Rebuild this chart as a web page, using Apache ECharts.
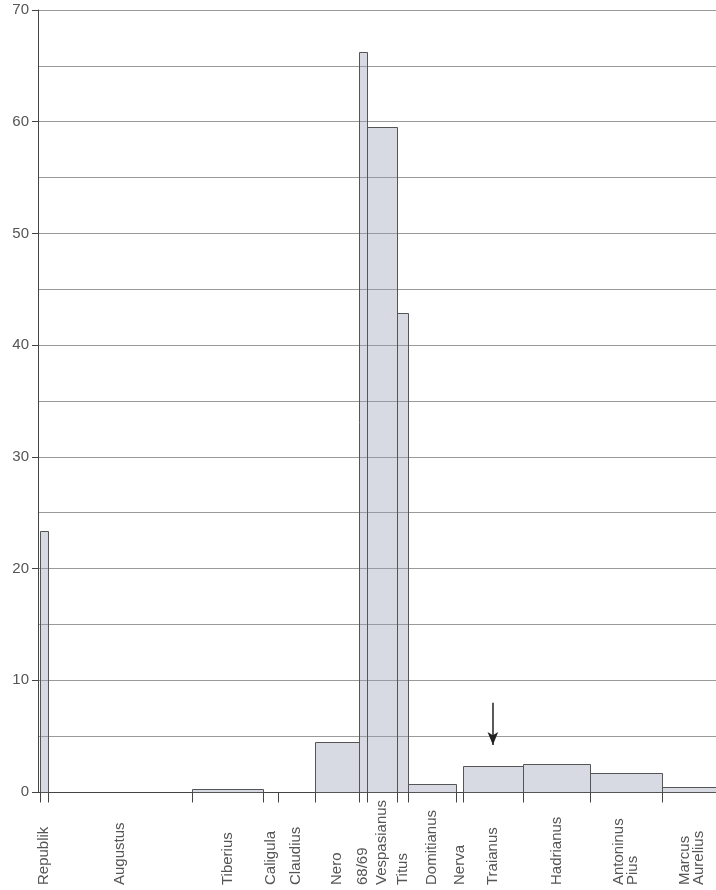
<!DOCTYPE html>
<html>
<head>
<meta charset="utf-8">
<script src="https://cdn.jsdelivr.net/npm/echarts@6/dist/echarts.min.js"></script>
<style>html,body{margin:0;padding:0;background:#fff;}#c{width:716px;height:890px;}</style>
</head>
<body>
<div id="c"></div>
<script>
// Periods (labels), start/end on a year scale, and values
const periods = ["Republik", "Augustus", "Tiberius", "Caligula", "Claudius", "Nero", "68/69", "Vespasianus", "Titus", "Domitianus", "Nerva", "Traianus", "Hadrianus", "Antoninus\nPius", "Marcus\nAurelius"];
const periodStart = [-33.5, -31, 14, 36.2, 40.8, 52.4, 66.3, 68.8, 78.0, 81.6, 96.6, 98.9, 117.6, 138.6, 161.0];
const periodEnd   = [-31, 14, 36.2, 40.8, 52.4, 66.3, 68.8, 78.0, 81.6, 96.6, 98.9, 117.6, 138.6, 161.0, 180];
const values      = [23.4, 0, 0.3, 0, 0, 4.5, 66.2, 59.5, 42.9, 0.7, 0, 2.35, 2.5, 1.7, 0.45];
const yTicks = [0, 10, 20, 30, 40, 50, 60, 70];
// Arrow annotation over Traianus: [x (year), from y, to y]
const arrowMark = [108.1, 8.0, 4.2];

const data = periods.map((p, i) => [periodStart[i], periodEnd[i], values[i]]);

const FONT = '"Liberation Sans", Arial, Helvetica, sans-serif';
const TXT = '#555';

const chart = echarts.init(document.getElementById('c'), null, {renderer: 'canvas'});
chart.setOption({
  animation: false,
  backgroundColor: '#fff',
  grid: {left: 38, right: 0, top: 10, bottom: 98, containLabel: false},
  xAxis: {
    type: 'value', min: -34.2, max: 177.9,
    axisLine: {show: true, onZero: false, lineStyle: {color: '#444', width: 1}},
    axisTick: {show: false}, axisLabel: {show: false}, splitLine: {show: false}
  },
  yAxis: {
    type: 'value', min: yTicks[0], max: yTicks[yTicks.length - 1], interval: 10,
    axisLine: {show: true, onZero: false, lineStyle: {color: '#444', width: 1}},
    axisTick: {show: true, length: 6, lineStyle: {color: '#444'}},
    axisLabel: {color: TXT, fontSize: 15, fontFamily: FONT, margin: 9},
    splitLine: {show: true, lineStyle: {color: '#9a9a9a', width: 1}},
    minorTick: {show: false, splitNumber: 2},
    minorSplitLine: {show: true, lineStyle: {color: '#9a9a9a', width: 1}}
  },
  series: [{
    type: 'custom',
    clip: false,
    data: data,
    encode: {x: [0, 1], y: 2},
    renderItem: function (params, api) {
      const i = params.dataIndex;
      const s = api.value(0), e = api.value(1), v = api.value(2);
      const p0 = api.coord([s, 0]);
      const p1 = api.coord([e, v]);
      const x0 = Math.round(p0[0]) + 0.5, x1 = Math.round(p1[0]) + 0.5;
      const yb = Math.round(p0[1]) + 0.5, yt = Math.round(p1[1]) + 0.5;
      const children = [];
      if (v > 0) {
        children.push({
          type: 'rect',
          shape: {x: x0, y: yt, width: x1 - x0, height: yb - yt},
          style: {fill: 'rgba(150,155,182,0.38)', stroke: '#555', lineWidth: 1}
        });
      }
      children.push({
        type: 'line',
        shape: {x1: x0, y1: yb, x2: x0, y2: yb + 10},
        style: {stroke: '#444', lineWidth: 1}
      });
      const cx = (api.coord([s, 0])[0] + api.coord([e, 0])[0]) / 2;
      children.push({
        type: 'text',
        x: cx, y: p0[1] + 93,
        rotation: Math.PI / 2,
        style: {
          text: periods[i], fill: TXT, fontSize: 15, fontFamily: FONT,
          align: 'left', verticalAlign: 'middle', lineHeight: 14
        }
      });
      return {type: 'group', children: children};
    },
    markLine: {
      silent: true,
      symbol: ['none', 'arrow'],
      symbolSize: [8, 13],
      label: {show: false},
      lineStyle: {color: '#222', width: 1.5, type: 'solid'},
      data: [[{coord: [arrowMark[0], arrowMark[1]]}, {coord: [arrowMark[0], arrowMark[2]]}]]
    }
  }]
});
</script>
</body>
</html>
